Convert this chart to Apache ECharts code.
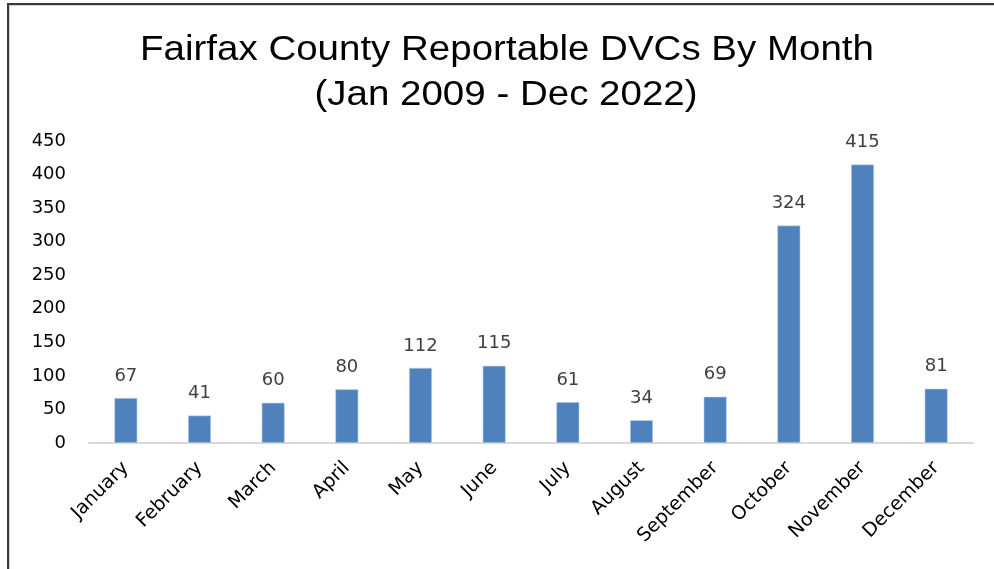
<!DOCTYPE html>
<html>
<head>
<meta charset="utf-8">
<script src="https://cdn.jsdelivr.net/npm/echarts@6/dist/echarts.min.js"></script>
<style>
  html, body { margin: 0; padding: 0; background: #fff; }
  #frame { position: absolute; left: 7px; top: 3px; width: 987px; height: 566px;
           border-top: 2px solid #3a3a3a; border-left: 2px solid #3a3a3a; box-sizing: border-box; }
  #inner { position: absolute; left: 0; top: 0; right: 0; bottom: 0; border-top: 1px solid #d0d0d0; border-left: 1px solid #d0d0d0; }
  #chart { position: absolute; left: 0; top: 0; width: 994px; height: 569px; }
</style>
</head>
<body>
<div id="frame"><div id="inner"></div></div>
<div id="chart"></div>
<script>
// Reportable deer-vehicle collisions per calendar month, Jan 2009 - Dec 2022
const months = ['January', 'February', 'March', 'April', 'May', 'June',
                'July', 'August', 'September', 'October', 'November', 'December'];
const collisions = [67, 41, 60, 80, 112, 115, 61, 34, 69, 324, 415, 81];
const yTicks = [0, 50, 100, 150, 200, 250, 300, 350, 400, 450];
const titleLines = ['Fairfax County Reportable DVCs By Month', '(Jan 2009 - Dec 2022)'];

const tickFont = { fontFamily: 'DejaVu Sans', fontSize: 18 };

// Title is drawn as two slightly widened text lines
const titleStyle = (text) => ({
  text: text,
  fill: '#000',
  font: '35px "Liberation Sans", Arial, sans-serif',
  align: 'center',
  verticalAlign: 'middle'
});

const chart = echarts.init(document.getElementById('chart'), null, { renderer: 'canvas' });
chart.setOption({
  animation: false,
  graphic: [
    { type: 'text', x: 507, y: 50, scaleX: 1.1, style: titleStyle(titleLines[0]) },
    { type: 'text', x: 506, y: 95, scaleX: 1.1, style: titleStyle(titleLines[1]) }
  ],
  grid: { left: 89, right: 21, top: 141, bottom: 126 },
  xAxis: {
    type: 'category',
    data: months,
    axisLine: { lineStyle: { color: '#d9d9d9', width: 2 } },
    axisTick: { show: false },
    axisLabel: Object.assign({ rotate: 45, interval: 0, margin: 22, color: '#000' }, tickFont, { fontSize: 19 })
  },
  yAxis: {
    type: 'value',
    min: yTicks[0],
    max: yTicks[yTicks.length - 1],
    interval: yTicks[1] - yTicks[0],
    splitLine: { show: false },
    axisLine: { show: false },
    axisTick: { show: false },
    axisLabel: Object.assign({ margin: 23, color: '#000' }, tickFont)
  },
  series: [{
    type: 'bar',
    data: collisions,
    barWidth: 23,
    itemStyle: { color: '#4f81bd', borderColor: '#c9d7ea', borderWidth: 0.6 },
    label: Object.assign({ show: true, position: 'top', distance: 13, color: '#404040' }, tickFont)
  }]
});
</script>
</body>
</html>
